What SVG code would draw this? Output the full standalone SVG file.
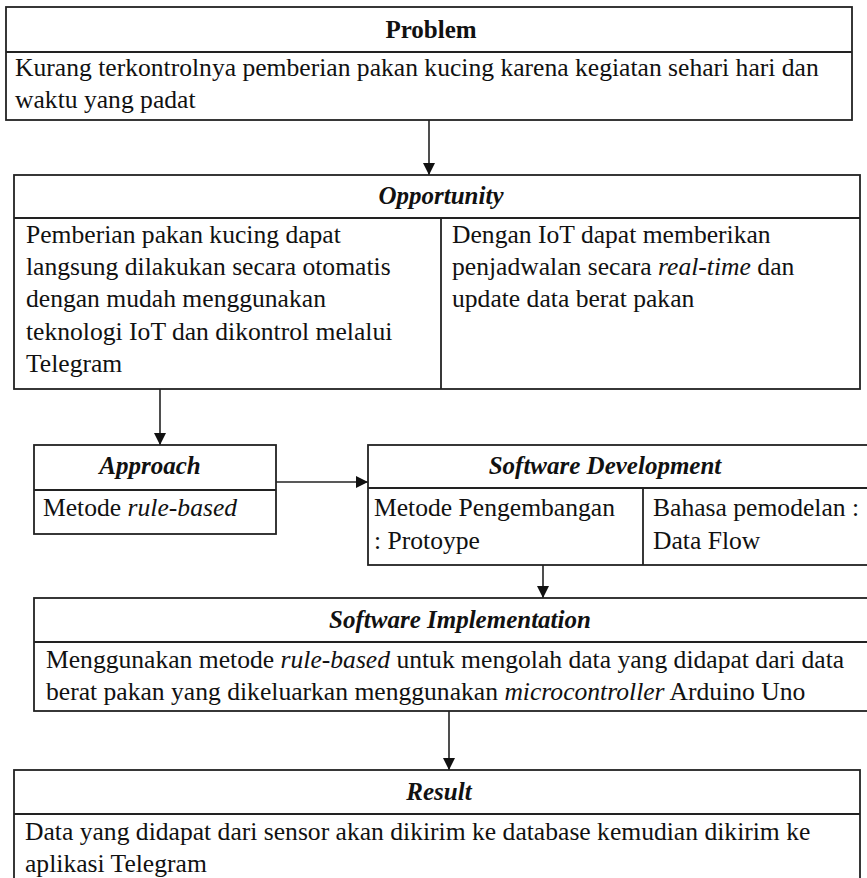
<svg xmlns="http://www.w3.org/2000/svg" width="867" height="878" viewBox="0 0 867 878">
<style>
.box{fill:#fff;stroke:#222;stroke-width:1.8}
.ln{stroke:#222;stroke-width:1.8;fill:none}
.t{font-family:"Liberation Serif","Times New Roman",serif;font-size:25.6px;fill:#111}
.h{font-family:"Liberation Serif","Times New Roman",serif;font-size:25px;fill:#111;font-weight:bold;text-anchor:middle}
.hi{font-style:italic}
.i{font-style:italic}
.con{stroke:#222;stroke-width:1.6;fill:none;marker-end:url(#ah)}
</style>
<defs>
<marker id="ah" markerUnits="userSpaceOnUse" markerWidth="12" markerHeight="14" viewBox="0 0 12 14" refX="12" refY="7" orient="auto">
<path d="M0,1 L12,7 L0,13 Z" fill="#111"/>
</marker>
</defs>
<rect width="867" height="878" fill="#fff"/>
<g id="connectors">
<line class="con" x1="429" y1="120" x2="429" y2="175"/>
<line class="con" x1="160" y1="389" x2="160" y2="445"/>
<line class="con" x1="276" y1="482" x2="368" y2="482"/>
<line class="con" x1="543" y1="565" x2="543" y2="598"/>
<line class="con" x1="449" y1="711" x2="449" y2="770"/>
</g>
<g id="problem">
<rect class="box" x="6" y="7" width="846" height="113"/>
<line class="ln" x1="6" y1="52" x2="852" y2="52"/>
<text class="h" x="431" y="38">Problem</text>
<text class="t" x="15" y="76">Kurang terkontrolnya pemberian pakan kucing karena kegiatan sehari hari dan</text>
<text class="t" x="15" y="108">waktu yang padat</text>
</g>
<g id="opportunity">
<rect class="box" x="14" y="175" width="846" height="214"/>
<line class="ln" x1="14" y1="218" x2="860" y2="218"/>
<line class="ln" x1="441" y1="218" x2="441" y2="389"/>
<text class="h hi" x="441" y="204">Opportunity</text>
<text class="t" x="26" y="243">Pemberian pakan kucing dapat</text>
<text class="t" x="26" y="275">langsung dilakukan secara otomatis</text>
<text class="t" x="26" y="307">dengan mudah menggunakan</text>
<text class="t" x="26" y="340">teknologi IoT dan dikontrol melalui</text>
<text class="t" x="26" y="372">Telegram</text>
<text class="t" x="452" y="243">Dengan IoT dapat memberikan</text>
<text class="t" x="452" y="275">penjadwalan secara <tspan class="i">real-time</tspan> dan</text>
<text class="t" x="452" y="307">update data berat pakan</text>
</g>
<g id="approach">
<rect class="box" x="34" y="445" width="242" height="89"/>
<line class="ln" x1="34" y1="490" x2="276" y2="490"/>
<text class="h hi" x="150" y="474">Approach</text>
<text class="t" x="43" y="516">Metode <tspan class="i">rule-based</tspan></text>
</g>
<g id="software-development">
<rect class="box" x="368" y="445" width="520" height="120"/>
<line class="ln" x1="368" y1="488" x2="867" y2="488"/>
<line class="ln" x1="643" y1="488" x2="643" y2="565"/>
<text class="h hi" x="605" y="474">Software Development</text>
<text class="t" x="374" y="516">Metode Pengembangan</text>
<text class="t" x="374" y="549">: Protoype</text>
<text class="t" x="653" y="516">Bahasa pemodelan :</text>
<text class="t" x="653" y="549">Data Flow</text>
</g>
<g id="software-implementation">
<rect class="box" x="34" y="598" width="860" height="113"/>
<line class="ln" x1="34" y1="642" x2="867" y2="642"/>
<text class="h hi" x="460" y="628">Software Implementation</text>
<text class="t" x="46" y="668">Menggunakan metode <tspan class="i">rule-based</tspan> untuk mengolah data yang didapat dari data</text>
<text class="t" x="46" y="700">berat pakan yang dikeluarkan menggunakan <tspan class="i">microcontroller</tspan> Arduino Uno</text>
</g>
<g id="result">
<rect class="box" x="14" y="770" width="846" height="130"/>
<line class="ln" x1="14" y1="814" x2="860" y2="814"/>
<text class="h hi" x="439" y="800">Result</text>
<text class="t" x="25" y="840">Data yang didapat dari sensor akan dikirim ke database kemudian dikirim ke</text>
<text class="t" x="25" y="872">aplikasi Telegram</text>
</g>
</svg>
